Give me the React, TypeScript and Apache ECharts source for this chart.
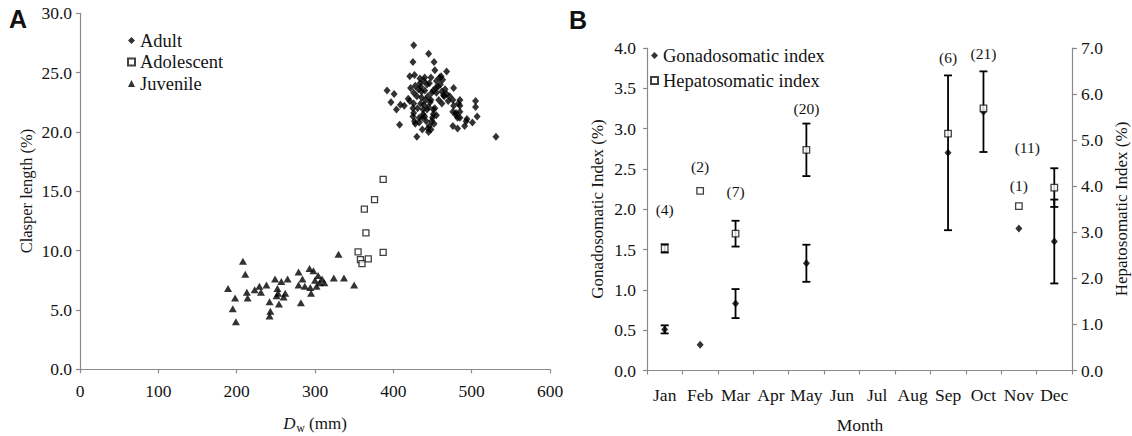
import React, { useEffect, useRef } from "react";
import * as echarts from "echarts";

// ---------- Panel A data: [Dw (mm), clasper length (%)] ----------
const adult: number[][] = [
  [426, 27.3], [425, 25.9], [445, 26.6], [452, 25.9], [453, 25.2], [468, 25.1],
  [392, 23.5], [401, 23.2], [397, 22.5], [404, 21.9], [409, 22.3], [414, 22.2], [408, 20.6],
  [421, 24.7], [427, 24.8], [422, 23.7], [426, 23.3], [419, 22.8], [421, 22.6], [426, 22.4],
  [425, 22.0], [426, 21.6], [425, 21.3], [427, 20.9], [428, 20.7], [430, 19.6],
  [432, 23.6], [434, 24.5], [434, 24.1], [435, 23.8], [436, 23.4], [436, 22.9], [435, 22.4],
  [438, 21.9], [438, 21.5], [437, 21.2], [437, 20.2],
  [439, 24.3], [440, 23.5], [441, 22.7], [439, 22.3], [443, 21.9], [442, 20.9], [444, 20.3],
  [445, 20.0], [446, 20.5],
  [446, 24.1], [448, 24.6], [448, 22.7], [449, 23.3], [447, 22.5], [449, 20.9], [451, 21.9],
  [451, 21.5], [450, 21.2], [452, 20.7], [448, 20.2],
  [451, 23.5], [454, 23.7], [455, 23.3], [453, 22.0], [455, 21.4],
  [459, 24.6], [461, 24.7], [460, 24.0], [463, 24.4], [462, 23.4], [464, 23.1], [465, 23.0],
  [458, 22.7], [466, 23.6],
  [472, 23.0], [477, 23.7], [476, 22.7], [477, 22.2], [476, 21.7], [480, 21.6], [483, 22.4],
  [485, 22.7], [485, 22.2], [485, 21.7], [480, 21.4], [482, 21.2], [476, 20.5], [482, 20.3],
  [485, 21.2],
  [491, 20.5], [493, 20.9], [494, 21.1], [501, 20.8], [505, 22.6], [505, 22.1], [507, 21.3],
  [531, 19.6],
  [440, 24.6], [443, 24.0], [444, 23.0], [430, 23.0], [431, 22.0], [433, 21.2], [457, 23.8],
  [468, 23.2], [470, 22.6], [433, 20.8], [455, 24.3], [462, 22.4], [440, 21.3], [445, 22.1],
  [428, 23.9],
];

const adolescent: number[][] = [
  [387, 16.0], [376, 14.3], [363, 13.5], [365, 11.5], [355, 9.9], [358, 9.25], [360, 8.9],
  [368, 9.3], [387, 9.85],
];

const juvenile: number[][] = [
  [189, 6.8], [195, 5.1], [198, 6.0], [199, 4.0], [208, 9.1], [211, 8.0], [213, 6.5], [214, 6.0],
  [223, 6.7], [229, 7.0], [231, 6.5], [238, 7.1], [242, 5.7], [243, 4.9], [242, 4.5], [249, 7.6],
  [252, 6.8], [253, 6.4], [251, 6.2], [254, 5.5], [257, 7.4], [260, 6.1], [262, 6.4], [265, 7.6],
  [279, 8.2], [279, 7.1], [282, 5.6], [284, 7.6], [287, 7.0], [293, 8.5], [294, 6.9], [295, 6.4],
  [298, 8.3], [300, 7.5], [302, 7.0], [304, 7.9], [306, 7.3], [309, 7.6], [312, 7.3], [324, 7.7],
  [330, 9.7], [337, 7.7], [350, 7.1],
];

// ---------- Panel B data ----------
const months = ["Jan", "Feb", "Mar", "Apr", "May", "Jun", "Jul", "Aug", "Sep", "Oct", "Nov", "Dec"];
const gsiMean = [0.51, 0.32, 0.83, null, 1.33, null, null, null, 2.7, 3.21, 1.76, 1.6];
const gsiErr = [0.05, 0, 0.18, null, 0.23, null, null, null, 0.96, 0.5, 0, 0.52];
const hsiMean = [2.65, 3.9, 2.97, null, 4.79, null, null, null, 5.14, 5.69, 3.57, 3.97];
const hsiErr = [0.09, 0, 0.28, null, 0.57, null, null, null, 0, 0, 0, 0.42];
const sampleN = [4, 2, 7, null, 20, null, null, null, 6, 21, 1, 11];
const nLabelAt = [2.0, 2.53, 2.22, null, 3.25, null, null, null, 3.88, 3.93, 2.29, 2.77];

const FONT = '"Liberation Serif", "Times New Roman", serif';
const AXIS_GRAY = "#8a8a8a";
const INK = "#141414";

function pairs(mean: (number | null)[]) {
  const out: number[][] = [];
  mean.forEach((v, i) => {
    if (v != null) out.push([i, v]);
  });
  return out;
}
function errData(mean: (number | null)[], err: (number | null)[]) {
  const out: number[][] = [];
  mean.forEach((v, i) => {
    const e = err[i];
    if (v != null && e != null && e > 0) out.push([i, v, e]);
  });
  return out;
}

const errorRender = (params: any, api: any) => {
  const i = api.value(0);
  const m = api.value(1);
  const e = api.value(2);
  const top = api.coord([i, m + e]);
  const bot = api.coord([i, m - e]);
  const w = 4;
  const style = { stroke: "#000", lineWidth: 1.8 };
  return {
    type: "group",
    children: [
      { type: "line", shape: { x1: top[0], y1: top[1], x2: bot[0], y2: bot[1] }, style },
      { type: "line", shape: { x1: top[0] - w, y1: top[1], x2: top[0] + w, y2: top[1] }, style },
      { type: "line", shape: { x1: bot[0] - w, y1: bot[1], x2: bot[0] + w, y2: bot[1] }, style },
    ],
  };
};

const countRender = (params: any, api: any) => {
  const i = api.value(0);
  const y = api.value(1);
  const n = api.value(2);
  const p = api.coord([i, y]);
  const dx = i === 11 ? -27 : 0;
  return {
    type: "text",
    x: p[0] + dx,
    y: p[1],
    style: {
      text: `(${n})`,
      fill: INK,
      font: `15.5px ${FONT}`,
      align: "center",
      verticalAlign: "middle",
    },
  };
};

export default function App() {
  const ref = useRef<HTMLDivElement>(null);
  useEffect(() => {
    if (!ref.current) return;
    const chart = echarts.init(ref.current, undefined, { renderer: "svg" });

    const axisLine = { show: true, lineStyle: { color: AXIS_GRAY, width: 1.2 } };
    const axisTick = { show: true, length: 4, lineStyle: { color: AXIS_GRAY, width: 1.2 } };
    const labelStyle = { color: INK, fontFamily: FONT, fontSize: 17.5 };
    const legendText = { color: INK, fontFamily: FONT, fontSize: 18.5 };

    const nData: number[][] = [];
    sampleN.forEach((n, i) => {
      const y = nLabelAt[i];
      if (n == null || y == null) return;
      nData.push([i, y, n]);
    });

    const option: any = {
      animation: false,
      backgroundColor: "#ffffff",
      textStyle: { fontFamily: FONT },
      grid: [
        { left: 80, top: 13.3, width: 470, height: 356 },
        { left: 647, top: 48, width: 425, height: 322.5 },
      ],
      xAxis: [
        {
          type: "value",
          gridIndex: 0,
          min: 0,
          max: 600,
          interval: 100,
          axisLine,
          axisTick,
          splitLine: { show: false },
          axisLabel: { ...labelStyle, margin: 13 },
        },
        {
          type: "category",
          gridIndex: 1,
          data: months,
          boundaryGap: true,
          axisLine,
          axisTick: { ...axisTick, interval: 0, alignWithLabel: false },
          splitLine: { show: false },
          axisLabel: { ...labelStyle, margin: 15, interval: 0 },
        },
      ],
      yAxis: [
        {
          type: "value",
          gridIndex: 0,
          min: 0,
          max: 30,
          interval: 5,
          axisLine,
          axisTick,
          splitLine: { show: false },
          axisLabel: { ...labelStyle, margin: 8, formatter: (v: number) => v.toFixed(1) },
        },
        {
          type: "value",
          gridIndex: 1,
          min: 0,
          max: 4,
          interval: 0.5,
          axisLine,
          axisTick,
          splitLine: { show: false },
          axisLabel: { ...labelStyle, margin: 11, formatter: (v: number) => v.toFixed(1) },
        },
        {
          type: "value",
          gridIndex: 1,
          position: "right",
          min: 0,
          max: 7,
          interval: 1,
          axisLine,
          axisTick: { ...axisTick, length: 5 },
          splitLine: { show: false },
          axisLabel: { ...labelStyle, margin: 9, formatter: (v: number) => v.toFixed(1) },
        },
      ],
      legend: [
        {
          data: ["Adult", "Adolescent", "Juvenile"],
          orient: "vertical",
          left: 122,
          top: 26,
          itemWidth: 7,
          itemHeight: 7,
          itemGap: 2.5,
          textStyle: legendText,
          selectedMode: false,
        },
        {
          data: ["Gonadosomatic index", "Hepatosomatic index"],
          orient: "vertical",
          left: 645,
          top: 41,
          itemWidth: 7,
          itemHeight: 7,
          itemGap: 6,
          textStyle: legendText,
          selectedMode: false,
        },
      ],
      series: [
        {
          name: "Adult",
          type: "scatter",
          xAxisIndex: 0,
          yAxisIndex: 0,
          symbol: "diamond",
          symbolSize: [7, 8],
          itemStyle: { color: "#000" },
          data: adult,
        },
        {
          name: "Adolescent",
          type: "scatter",
          xAxisIndex: 0,
          yAxisIndex: 0,
          symbol: "rect",
          symbolSize: 6,
          itemStyle: { color: "#fff", borderColor: "#111", borderWidth: 1.3 },
          data: adolescent,
        },
        {
          name: "Juvenile",
          type: "scatter",
          xAxisIndex: 0,
          yAxisIndex: 0,
          symbol: "triangle",
          symbolSize: [8, 7],
          itemStyle: { color: "#000" },
          data: juvenile,
        },
        {
          name: "GSI error",
          type: "custom",
          xAxisIndex: 1,
          yAxisIndex: 1,
          renderItem: errorRender,
          encode: { x: 0, y: 1 },
          data: errData(gsiMean, gsiErr),
          z: 1,
        },
        {
          name: "HSI error",
          type: "custom",
          xAxisIndex: 1,
          yAxisIndex: 2,
          renderItem: errorRender,
          encode: { x: 0, y: 1 },
          data: errData(hsiMean, hsiErr),
          z: 1,
        },
        {
          name: "Gonadosomatic index",
          type: "scatter",
          xAxisIndex: 1,
          yAxisIndex: 1,
          symbol: "diamond",
          symbolSize: [7, 8],
          itemStyle: { color: "#000" },
          data: pairs(gsiMean),
          z: 3,
        },
        {
          name: "Hepatosomatic index",
          type: "scatter",
          xAxisIndex: 1,
          yAxisIndex: 2,
          symbol: "rect",
          symbolSize: 6.5,
          itemStyle: { color: "#fff", borderColor: "#111", borderWidth: 1.3 },
          data: pairs(hsiMean),
          z: 4,
        },
        {
          name: "n",
          type: "custom",
          xAxisIndex: 1,
          yAxisIndex: 1,
          silent: true,
          renderItem: countRender,
          encode: { x: 0, y: 1 },
          data: nData,
          z: 5,
        },
      ],
      graphic: [
        {
          type: "text",
          x: 18,
          y: 19,
          style: {
            text: "A",
            font: 'bold 25px "Liberation Sans", Arial, sans-serif',
            fill: "#111",
            align: "center",
            verticalAlign: "middle",
          },
        },
        {
          type: "text",
          x: 578,
          y: 19.5,
          style: {
            text: "B",
            font: 'bold 25px "Liberation Sans", Arial, sans-serif',
            fill: "#111",
            align: "center",
            verticalAlign: "middle",
          },
        },
        {
          type: "text",
          x: 26,
          y: 191,
          rotation: Math.PI / 2,
          style: {
            text: "Clasper length (%)",
            font: `16.5px ${FONT}`,
            fill: INK,
            align: "center",
            verticalAlign: "middle",
          },
        },
        {
          type: "text",
          x: 315,
          y: 423,
          style: {
            text: "{d|D}{w|w}{n| (mm)}",
            align: "center",
            verticalAlign: "middle",
            rich: {
              d: { fontFamily: FONT, fontSize: 17, fontStyle: "italic", fill: INK },
              w: { fontFamily: FONT, fontSize: 11.5, fill: INK, padding: [9, 0, 0, 1] },
              n: { fontFamily: FONT, fontSize: 17, fill: INK },
            },
          },
        },
        {
          type: "text",
          x: 597,
          y: 209,
          rotation: Math.PI / 2,
          style: {
            text: "Gonadosomatic Index (%)",
            font: `17px ${FONT}`,
            fill: INK,
            align: "center",
            verticalAlign: "middle",
          },
        },
        {
          type: "text",
          x: 1121,
          y: 209,
          rotation: Math.PI / 2,
          style: {
            text: "Hepatosomatic Index (%)",
            font: `17px ${FONT}`,
            fill: INK,
            align: "center",
            verticalAlign: "middle",
          },
        },
        {
          type: "text",
          x: 860,
          y: 425,
          style: {
            text: "Month",
            font: `17.5px ${FONT}`,
            fill: INK,
            align: "center",
            verticalAlign: "middle",
          },
        },
      ],
    };

    chart.setOption(option);
    return () => chart.dispose();
  }, []);

  return (
    <div
      ref={ref}
      style={{ position: "fixed", left: 0, top: 0, width: 1132, height: 436, background: "#fff" }}
    />
  );
}
